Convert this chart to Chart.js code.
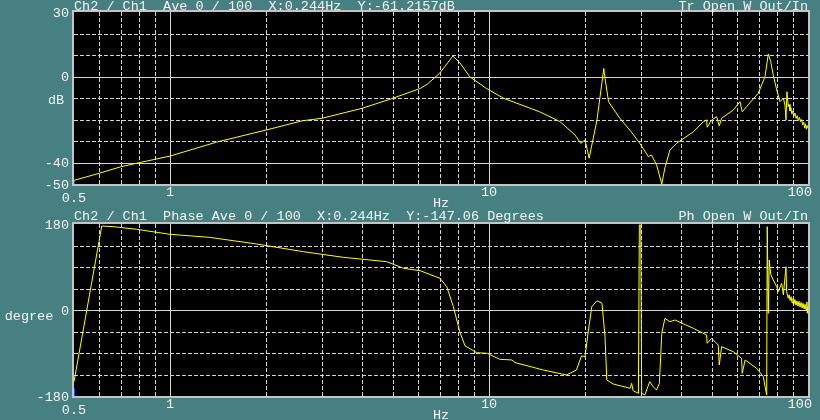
<!DOCTYPE html>
<html>
<head>
<meta charset="utf-8">
<script src="https://cdn.jsdelivr.net/npm/chart.js@4.4.1/dist/chart.umd.min.js"></script>
<style>
  html, body { margin: 0; padding: 0; background: #468080; }
  #wrap { position: relative; width: 820px; height: 420px; overflow: hidden; }
  canvas { position: absolute; left: 0; }
</style>
</head>
<body>
<div id="wrap">
  <canvas id="magChart" width="820" height="210" style="top:0;width:820px;height:210px"></canvas>
  <canvas id="phaseChart" width="820" height="210" style="top:210px;width:820px;height:210px"></canvas>
</div>
<script>
// frequency axis (Hz, log)
const xMin = 0.5, xMax = 100;
const xTickValues = [0.5, 1, 10, 100];
const xTickLabels = ['0.5', '1', '10', '100'];
const xGridMajor = [1, 10];
const xGridMinor = [0.6, 0.7, 0.8, 0.9, 2, 3, 4, 5, 6, 7, 8, 9, 20, 30, 40, 50, 60, 70, 80, 90];

// magnitude panel
const magTickValues = [30, 0, -40, -50];
const magTickLabels = ['30', '0', '-40', '-50'];
const magGrid = [20, 10, 0, -10, -20, -30, -40];
const magGridSolid = [0, -40];
const magFreq = [0.5, 0.6, 0.7, 0.8, 1.0, 1.4, 2.0, 2.6, 3.0, 4.0, 5.0, 6.1, 6.4, 7.0, 7.7, 8.1, 8.7, 9.8,
  11.1, 14.4, 16.7, 18.6, 19.4, 20.0, 20.6, 21.8, 22.9, 23.1, 23.7, 25.7, 27.9, 29.7, 31.6, 32.3, 33.5,
  34.8, 35.6, 36.9, 38.7, 43.7, 47.0, 48.1, 48.3, 49.9, 51.7, 52.7, 53.6, 58.3, 61.2, 62.2, 64.2, 69.8,
  73.3, 75.1, 76.4, 77.8, 79.8, 81.7, 83.7, 84.7, 85.3, 85.9, 86.7, 87.2, 87.8, 88.4, 89.0, 89.6, 90.3,
  91.0, 91.8, 92.5, 93.2, 94.0, 94.8, 95.5, 96.2, 97.0, 97.6, 98.2, 98.8, 99.4, 100];
const magDb = [-48.3, -45.0, -42.0, -40.1, -37.0, -30.5, -24.9, -20.6, -19.4, -14.8, -10.1, -5.5, -3.6, 1.5, 9.5, 6.4, -0.1, -5.5,
  -10.1, -16.4, -21.0, -27.2, -31.1, -29.5, -38.0, -20.2, 3.8, -0.8, -11.7, -19.4, -25.7, -31.1, -37.3, -36.5, -41.0,
  -50.0, -42.5, -34.2, -31.1, -25.7, -21.0, -20.2, -23.6, -20.2, -18.7, -23.0, -19.4, -15.6, -11.7, -16.4, -14.0, -7.8,
  -0.1, 10.5, 6.9, 0.7, -6.3, -11.7, -10.1, -13.3, -20.2, -7.1, -14.0, -13.0, -16.0, -14.5, -17.5, -16.0, -18.5,
  -17.0, -19.5, -18.2, -20.5, -19.0, -21.0, -20.0, -22.5, -21.2, -24.0, -22.0, -24.5, -22.8, -24.0];

// phase panel
const phaseTickValues = [180, 0, -180];
const phaseTickLabels = ['180', '0', '-180'];
const phaseGrid = [135, 90, 45, 0, -45, -90, -135];
const phaseGridSolid = [0];
const phaseFreq = [0.5, 0.611, 0.664, 0.786, 1.0, 1.33, 1.87, 2.62, 3.49, 4.78, 5.39, 6.08, 7.02, 7.37, 7.73, 8.11,
  8.41, 8.72, 9.15, 9.88, 10.8, 11.8, 12.06, 14.8, 17.5, 18.8, 19.5, 20.0, 20.5, 21.0, 21.8, 22.6, 23.1, 23.4,
  24.5, 27.7, 28.0, 28.3, 29.4, 29.6, 29.9, 30.1, 30.8, 31.9, 32.7, 33.5, 34.2, 34.8, 35.6, 36.9, 38.3, 43.7,
  48.1, 48.3, 49.9, 52.3, 52.7, 53.6, 58.3, 61.9, 62.2, 63.5, 69.0, 72.4, 74.2, 74.5, 75.1, 75.6, 76.4, 77.8,
  79.8, 80.7, 82.7, 83.7, 85.3, 85.7, 86.7, 87.3, 87.9, 88.5, 89.1, 89.7, 90.3, 91.0, 91.7, 92.3, 93.0, 93.7,
  94.4, 95.1, 95.8, 96.5, 97.2, 97.9, 98.6, 99.2, 99.5, 100];
const phaseDeg = [-150, 175.8, 174.4, 168.9, 158.4, 152.1, 138.1, 122, 110.3, 101.1, 87.3, 82.3, 66.3, 48.8, 6.9, -47,
  -75, -81, -89.4, -90.6, -103.2, -104.6, -110, -125.6, -136, -125.6, -96, -97.7, -41.9, 6.9, 19.4, 14, -55.9, -146.5,
  -154.9, -163.9, -153.4, -168.9, -174.4, 178, 178, -174.4, -177.9, -150, -160.5, -167.4, -153.4, -48.8, -17.4, -24.5, -20.9, -38.3,
  -52.3, -69.7, -59.2, -73.3, -115.1, -76.8, -87.3, -101.1, -132.5, -104.6, -122, -139.6, -177.9, 174.4, -6.9, 104.6, 75, 62.8,
  48.8, 38.3, 55.9, 31.4, 90.6, 38.3, 24.5, 32, 20, 28, 15, 24, 12, 22, 10, 19, 8, 18,
  6, 16, 4, 14, 2, 12, 0, 17, -6.9, 8];

const FONT = '13.5px "Liberation Mono", "DejaVu Sans Mono", monospace';
const TEXT = '#f4f4f4';
const GRID = '#d4d4d4';

function zip(xs, ys) {
  return xs.map((x, i) => ({ x, y: ys[i] }));
}

const panelPlugin = {
  id: 'panel',
  beforeDraw(chart, args, o) {
    const { ctx, chartArea: a } = chart;
    ctx.save();
    ctx.fillStyle = '#000';
    ctx.fillRect(a.left, a.top, a.right - a.left, a.bottom - a.top);
    ctx.restore();
  },
  beforeDatasetsDraw(chart, args, o) {
    const { ctx, chartArea: a, scales: { x, y } } = chart;
    ctx.save();
    ctx.lineWidth = 1;
    ctx.strokeStyle = GRID;
    const vline = (v, dash) => {
      const px = Math.round(x.getPixelForValue(v)) + 0.5;
      ctx.setLineDash(dash);
      ctx.beginPath(); ctx.moveTo(px, a.top); ctx.lineTo(px, a.bottom); ctx.stroke();
    };
    const hline = (v, dash) => {
      const py = Math.round(y.getPixelForValue(v)) + 0.5;
      ctx.setLineDash(dash);
      ctx.beginPath(); ctx.moveTo(a.left, py); ctx.lineTo(a.right, py); ctx.stroke();
    };
    xGridMinor.forEach(v => vline(v, [4, 2]));
    xGridMajor.forEach(v => vline(v, []));
    o.yGrid.forEach(v => hline(v, o.yGridSolid.includes(v) ? [] : [4, 2]));
    ctx.restore();
  },
  afterDraw(chart, args, o) {
    const { ctx, chartArea: a, scales: { x, y } } = chart;
    ctx.save();
    // frame
    ctx.strokeStyle = '#c4c4c4';
    ctx.lineWidth = 2;
    ctx.strokeRect(a.left - 1, a.top - 1, a.right - a.left + 2, a.bottom - a.top + 2);

    ctx.font = FONT;
    ctx.fillStyle = TEXT;
    // titles
    ctx.textBaseline = 'alphabetic';
    ctx.textAlign = 'left';
    ctx.fillText(o.title, a.left, 10);
    ctx.textAlign = 'right';
    ctx.fillText(o.rightTitle, a.right, 10);

    // y tick labels
    ctx.textBaseline = 'middle';
    o.yTicks.forEach((v, i) => {
      ctx.fillText(o.yLabels[i], a.left - 5, y.getPixelForValue(v) + 1);
    });

    // x tick labels
    ctx.textAlign = 'center';
    xTickValues.forEach((v, i) => {
      const label = xTickLabels[i];
      const w = ctx.measureText(label).width;
      let px = x.getPixelForValue(v);
      px = Math.min(px, chart.width - 8 - w / 2);
      const py = v === xMin ? a.bottom + 14 : a.bottom + 8;
      ctx.fillText(label, px, py);
    });
    ctx.fillText('Hz', (a.left + a.right) / 2, a.bottom + 19);

    // y axis name
    ctx.fillText(o.yName, o.yNameX, (a.top + a.bottom) / 2 + o.yNameDy);
    ctx.restore();
  }
};

function makePanel(id, cfg) {
  return new Chart(document.getElementById(id), {
    type: 'line',
    data: {
      datasets: [
        {
          data: cfg.points,
          borderColor: '#ffff00',
          borderWidth: 1,
          pointRadius: 0,
          tension: 0
        },
        {
          data: cfg.cursor,
          borderColor: '#2a3cff',
          borderWidth: 2,
          pointRadius: 0
        }
      ]
    },
    options: {
      responsive: false,
      animation: false,
      events: [],
      parsing: false,
      layout: { padding: cfg.padding },
      plugins: {
        legend: { display: false },
        tooltip: { enabled: false },
        panel: cfg.panel
      },
      scales: {
        x: { type: 'logarithmic', min: xMin, max: xMax, display: false },
        y: { type: 'linear', min: cfg.yMin, max: cfg.yMax, display: false }
      }
    },
    plugins: [panelPlugin]
  });
}

makePanel('magChart', {
  points: zip(magFreq, magDb),
  cursor: [{ x: 0.5, y: -48.5 }, { x: 0.5, y: -50 }],
  yMin: -50, yMax: 30,
  padding: { left: 74, right: 12, top: 12, bottom: 26 },
  panel: {
    title: 'Ch2 / Ch1  Ave 0 / 100  X:0.244Hz  Y:-61.2157dB',
    rightTitle: 'Tr Open W Out/In',
    yTicks: magTickValues, yLabels: magTickLabels,
    yGrid: magGrid, yGridSolid: magGridSolid,
    yName: 'dB', yNameX: 56, yNameDy: 2
  }
});

makePanel('phaseChart', {
  points: zip(phaseFreq, phaseDeg),
  cursor: [{ x: 0.5, y: -165 }, { x: 0.5, y: -180 }],
  yMin: -180, yMax: 180,
  padding: { left: 74, right: 12, top: 14, bottom: 24 },
  panel: {
    title: 'Ch2 / Ch1  Phase Ave 0 / 100  X:0.244Hz  Y:-147.06 Degrees',
    rightTitle: 'Ph Open W Out/In',
    yTicks: phaseTickValues, yLabels: phaseTickLabels,
    yGrid: phaseGrid, yGridSolid: phaseGridSolid,
    yName: 'degree', yNameX: 29, yNameDy: 6
  }
});
</script>
</body>
</html>
